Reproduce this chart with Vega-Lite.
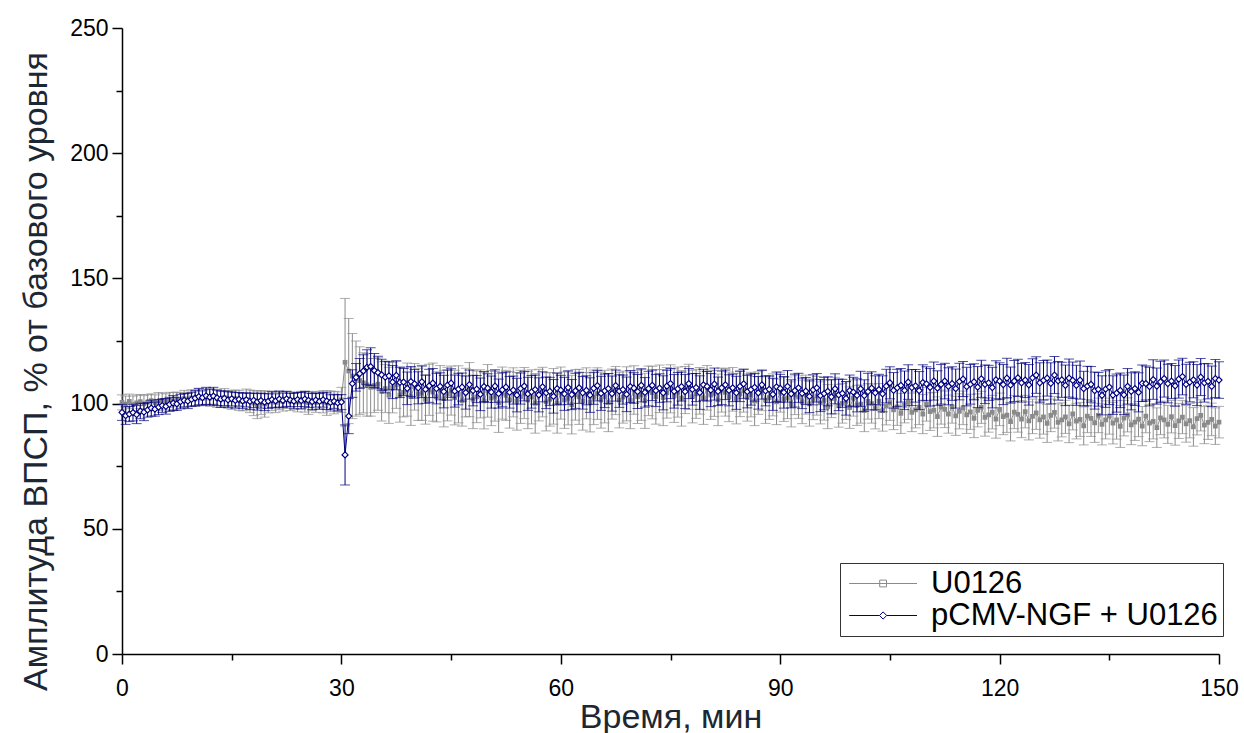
{
"$schema":"https://vega.github.io/schema/vega-lite/v6.json",
"width":1097,"height":626,
"autosize":{"type":"none"},
"padding":{"left":122,"top":28,"right":25,"bottom":79},
"background":"white",
"config":{"view":{"stroke":null},"font":"Liberation Sans"},
"datasets":{
"u":[
{"t":0,"y":100.5,"e":3.0},{"t":0.5,"y":99.8,"e":3.2},{"t":1,"y":100.9,"e":2.9},{"t":1.5,"y":99.6,"e":3.4},{"t":2,"y":100.3,"e":3.1},{"t":2.5,"y":100.8,"e":2.8},{"t":3,"y":99.9,"e":3.3},{"t":3.5,"y":100.6,"e":3.0},{"t":4,"y":101.2,"e":2.7},{"t":4.5,"y":100.4,"e":3.1},
{"t":5,"y":100.9,"e":3.5},{"t":5.5,"y":101.3,"e":2.9},{"t":6,"y":100.7,"e":3.2},{"t":6.5,"y":101.5,"e":3.0},{"t":7,"y":101.0,"e":3.4},{"t":7.5,"y":101.8,"e":2.8},{"t":8,"y":101.3,"e":3.1},{"t":8.5,"y":102.0,"e":3.3},{"t":9,"y":101.6,"e":2.9},{"t":9.5,"y":102.3,"e":3.2},
{"t":10,"y":101.9,"e":3.0},{"t":10.5,"y":102.5,"e":3.4},{"t":11,"y":102.1,"e":2.8},{"t":11.5,"y":102.7,"e":3.1},{"t":12,"y":102.2,"e":3.3},{"t":12.5,"y":102.8,"e":3.0},{"t":13,"y":102.0,"e":3.5},{"t":13.5,"y":101.7,"e":3.2},{"t":14,"y":102.4,"e":3.6},{"t":14.5,"y":101.9,"e":3.3},
{"t":15,"y":101.5,"e":3.8},{"t":15.5,"y":102.0,"e":3.4},{"t":16,"y":101.3,"e":4.0},{"t":16.5,"y":100.8,"e":3.7},{"t":17,"y":101.6,"e":4.2},{"t":17.5,"y":100.9,"e":4.5},{"t":18,"y":100.2,"e":5.0},{"t":18.5,"y":99.5,"e":5.5},{"t":19,"y":100.4,"e":4.8},{"t":19.5,"y":99.8,"e":5.2},
{"t":20,"y":100.6,"e":4.3},{"t":20.5,"y":101.1,"e":3.9},{"t":21,"y":100.5,"e":4.1},{"t":21.5,"y":101.3,"e":3.6},{"t":22,"y":100.8,"e":3.8},{"t":22.5,"y":101.5,"e":3.4},{"t":23,"y":100.9,"e":3.7},{"t":23.5,"y":101.2,"e":3.3},{"t":24,"y":100.6,"e":3.9},{"t":24.5,"y":101.4,"e":3.5},
{"t":25,"y":100.8,"e":4.2},{"t":25.5,"y":100.3,"e":4.6},{"t":26,"y":101.0,"e":3.8},{"t":26.5,"y":100.5,"e":4.0},{"t":27,"y":101.3,"e":3.6},{"t":27.5,"y":100.7,"e":4.4},{"t":28,"y":100.2,"e":4.9},{"t":28.5,"y":100.9,"e":4.1},{"t":29,"y":100.4,"e":4.5},{"t":29.5,"y":100.8,"e":3.9},
{"t":30,"y":101.5,"e":5.0},{"t":30.5,"y":116.5,"e":25.5},{"t":31,"y":113.0,"e":21.0},{"t":31.5,"y":111.0,"e":17.0},{"t":32,"y":110.0,"e":15.0},{"t":32.5,"y":109.2,"e":13.5},{"t":33,"y":108.3,"e":12.0},{"t":33.5,"y":107.5,"e":12.5},{"t":34,"y":106.5,"e":11.5},{"t":34.5,"y":107.2,"e":10.8},
{"t":35,"y":107.8,"e":10.5},{"t":35.5,"y":104.9,"e":11.8},{"t":36,"y":106.0,"e":9.6},{"t":36.5,"y":103.3,"e":11.2},{"t":37,"y":106.4,"e":10.1},{"t":37.5,"y":107.5,"e":9.4},{"t":38,"y":103.5,"e":10.9},{"t":38.5,"y":104.5,"e":9.8},{"t":39,"y":105.6,"e":10.6},{"t":39.5,"y":102.8,"e":11.5},
{"t":40,"y":106.7,"e":9.3},{"t":40.5,"y":103.7,"e":10.4},{"t":41,"y":104.3,"e":11.0},{"t":41.5,"y":101.7,"e":9.9},{"t":42,"y":105.5,"e":10.2},{"t":42.5,"y":104.6,"e":11.6},{"t":43,"y":102.7,"e":10.0},{"t":43.5,"y":105.7,"e":9.5},{"t":44,"y":102.0,"e":11.3},{"t":44.5,"y":103.8,"e":10.7},
{"t":45,"y":105.2,"e":9.8},{"t":45.5,"y":102.4,"e":10.9},{"t":46,"y":103.7,"e":11.4},{"t":46.5,"y":101.1,"e":10.1},{"t":47,"y":104.4,"e":9.7},{"t":47.5,"y":105.6,"e":10.8},{"t":48,"y":101.7,"e":11.7},{"t":48.5,"y":102.7,"e":10.3},{"t":49,"y":103.9,"e":9.6},{"t":49.5,"y":101.1,"e":11.2},
{"t":50,"y":105.1,"e":10.5},{"t":50.5,"y":102.2,"e":11.0},{"t":51,"y":102.9,"e":9.9},{"t":51.5,"y":100.3,"e":11.8},{"t":52,"y":104.2,"e":10.4},{"t":52.5,"y":103.3,"e":10.0},{"t":53,"y":101.5,"e":11.3},{"t":53.5,"y":104.5,"e":9.8},{"t":54,"y":100.9,"e":11.5},{"t":54.5,"y":102.7,"e":10.6},
{"t":55,"y":104.2,"e":10.2},{"t":55.5,"y":101.4,"e":11.4},{"t":56,"y":102.7,"e":10.8},{"t":56.5,"y":100.1,"e":11.9},{"t":57,"y":103.4,"e":10.3},{"t":57.5,"y":104.6,"e":9.9},{"t":58,"y":100.7,"e":11.6},{"t":58.5,"y":101.7,"e":10.7},{"t":59,"y":102.9,"e":11.1},{"t":59.5,"y":100.2,"e":12.0},
{"t":60,"y":104.2,"e":10.4},{"t":60.5,"y":101.4,"e":11.3},{"t":61,"y":102.1,"e":10.6},{"t":61.5,"y":99.6,"e":11.7},{"t":62,"y":103.5,"e":10.1},{"t":62.5,"y":102.7,"e":11.0},{"t":63,"y":100.9,"e":11.5},{"t":63.5,"y":104.1,"e":10.2},{"t":64,"y":100.5,"e":11.8},{"t":64.5,"y":102.5,"e":10.9},
{"t":65,"y":104.0,"e":10.3},{"t":65.5,"y":101.4,"e":11.2},{"t":66,"y":102.8,"e":10.5},{"t":66.5,"y":100.4,"e":11.6},{"t":67,"y":103.8,"e":10.0},{"t":67.5,"y":105.2,"e":9.6},{"t":68,"y":101.4,"e":11.1},{"t":68.5,"y":102.6,"e":10.4},{"t":69,"y":103.9,"e":10.8},{"t":69.5,"y":101.3,"e":11.3},
{"t":70,"y":105.4,"e":9.7},{"t":70.5,"y":102.7,"e":10.6},{"t":71,"y":103.5,"e":10.2},{"t":71.5,"y":101.1,"e":11.0},{"t":72,"y":105.1,"e":9.9},{"t":72.5,"y":104.4,"e":10.5},{"t":73,"y":102.7,"e":10.9},{"t":73.5,"y":105.9,"e":9.5},{"t":74,"y":102.4,"e":11.2},{"t":74.5,"y":104.3,"e":10.1},
{"t":75,"y":105.9,"e":9.6},{"t":75.5,"y":103.2,"e":10.7},{"t":76,"y":104.6,"e":10.0},{"t":76.5,"y":102.1,"e":11.1},{"t":77,"y":105.4,"e":9.4},{"t":77.5,"y":106.7,"e":9.0},{"t":78,"y":102.8,"e":10.5},{"t":78.5,"y":103.9,"e":9.8},{"t":79,"y":105.1,"e":9.3},{"t":79.5,"y":102.3,"e":10.6},
{"t":80,"y":106.3,"e":8.9},{"t":80.5,"y":103.4,"e":9.7},{"t":81,"y":104.1,"e":9.2},{"t":81.5,"y":101.5,"e":10.3},{"t":82,"y":105.4,"e":8.8},{"t":82.5,"y":104.5,"e":9.5},{"t":83,"y":102.7,"e":9.9},{"t":83.5,"y":105.7,"e":8.7},{"t":84,"y":102.0,"e":10.1},{"t":84.5,"y":103.8,"e":9.0},
{"t":85,"y":105.2,"e":8.6},{"t":85.5,"y":102.4,"e":9.4},{"t":86,"y":103.6,"e":8.9},{"t":86.5,"y":101.0,"e":9.8},{"t":87,"y":104.2,"e":8.5},{"t":87.5,"y":105.4,"e":8.2},{"t":88,"y":101.4,"e":9.3},{"t":88.5,"y":102.4,"e":8.7},{"t":89,"y":103.5,"e":8.4},{"t":89.5,"y":100.7,"e":9.1},
{"t":90,"y":104.6,"e":8.0},{"t":90.5,"y":101.7,"e":8.8},{"t":91,"y":102.3,"e":8.3},{"t":91.5,"y":99.7,"e":9.0},{"t":92,"y":103.5,"e":7.9},{"t":92.5,"y":102.6,"e":8.5},{"t":93,"y":100.7,"e":8.7},{"t":93.5,"y":103.6,"e":7.8},{"t":94,"y":99.9,"e":8.9},{"t":94.5,"y":101.7,"e":8.1},
{"t":95,"y":103.1,"e":7.7},{"t":95.5,"y":100.3,"e":8.4},{"t":96,"y":101.4,"e":8.0},{"t":96.5,"y":98.8,"e":8.8},{"t":97,"y":102.0,"e":7.6},{"t":97.5,"y":103.2,"e":7.3},{"t":98,"y":99.1,"e":8.5},{"t":98.5,"y":100.1,"e":7.9},{"t":99,"y":101.2,"e":7.5},{"t":99.5,"y":98.4,"e":8.3},
{"t":100,"y":102.2,"e":7.2},{"t":100.5,"y":99.3,"e":8.0},{"t":101,"y":99.8,"e":7.6},{"t":101.5,"y":97.2,"e":8.4},{"t":102,"y":100.9,"e":7.1},{"t":102.5,"y":100.0,"e":7.8},{"t":103,"y":98.0,"e":8.1},{"t":103.5,"y":101.0,"e":7.0},{"t":104,"y":97.2,"e":8.2},{"t":104.5,"y":99.0,"e":7.5},
{"t":105,"y":100.4,"e":7.1},{"t":105.5,"y":97.5,"e":7.9},{"t":106,"y":98.7,"e":7.4},{"t":106.5,"y":96.1,"e":8.0},{"t":107,"y":99.3,"e":7.0},{"t":107.5,"y":100.5,"e":6.8},{"t":108,"y":96.5,"e":7.7},{"t":108.5,"y":97.5,"e":7.2},{"t":109,"y":98.6,"e":7.0},{"t":109.5,"y":95.8,"e":7.8},
{"t":110,"y":99.7,"e":6.7},{"t":110.5,"y":96.8,"e":7.5},{"t":111,"y":97.4,"e":7.1},{"t":111.5,"y":94.8,"e":7.9},{"t":112,"y":98.6,"e":6.8},{"t":112.5,"y":97.7,"e":7.3},{"t":113,"y":95.8,"e":7.6},{"t":113.5,"y":98.8,"e":6.6},{"t":114,"y":95.1,"e":7.8},{"t":114.5,"y":96.9,"e":7.0},
{"t":115,"y":98.3,"e":6.7},{"t":115.5,"y":95.5,"e":7.4},{"t":116,"y":96.7,"e":7.0},{"t":116.5,"y":94.1,"e":7.7},{"t":117,"y":97.3,"e":6.6},{"t":117.5,"y":98.5,"e":6.4},{"t":118,"y":94.5,"e":7.5},{"t":118.5,"y":95.5,"e":6.9},{"t":119,"y":96.6,"e":6.7},{"t":119.5,"y":93.8,"e":7.6},
{"t":120,"y":97.7,"e":6.5},{"t":120.5,"y":94.8,"e":7.2},{"t":121,"y":95.4,"e":6.9},{"t":121.5,"y":92.8,"e":7.7},{"t":122,"y":96.6,"e":6.6},{"t":122.5,"y":95.7,"e":7.1},{"t":123,"y":93.8,"e":7.4},{"t":123.5,"y":96.8,"e":6.5},{"t":124,"y":93.1,"e":7.6},{"t":124.5,"y":94.9,"e":6.9},
{"t":125,"y":96.3,"e":6.6},{"t":125.5,"y":93.5,"e":7.3},{"t":126,"y":94.7,"e":6.9},{"t":126.5,"y":92.1,"e":7.6},{"t":127,"y":95.3,"e":6.5},{"t":127.5,"y":96.5,"e":6.3},{"t":128,"y":92.5,"e":7.4},{"t":128.5,"y":93.5,"e":6.8},{"t":129,"y":94.7,"e":6.6},{"t":129.5,"y":91.9,"e":7.5},
{"t":130,"y":95.9,"e":6.4},{"t":130.5,"y":93.0,"e":7.1},{"t":131,"y":93.7,"e":6.8},{"t":131.5,"y":91.1,"e":7.6},{"t":132,"y":95.0,"e":6.6},{"t":132.5,"y":94.1,"e":7.2},{"t":133,"y":92.3,"e":7.8},{"t":133.5,"y":95.3,"e":6.9},{"t":134,"y":91.7,"e":8.2},{"t":134.5,"y":93.5,"e":7.6},
{"t":135,"y":95.0,"e":7.2},{"t":135.5,"y":92.2,"e":8.3},{"t":136,"y":93.5,"e":7.7},{"t":136.5,"y":90.9,"e":8.4},{"t":137,"y":94.2,"e":7.1},{"t":137.5,"y":95.5,"e":6.8},{"t":138,"y":91.5,"e":7.9},{"t":138.5,"y":92.6,"e":7.3},{"t":139,"y":93.8,"e":7.0},{"t":139.5,"y":91.0,"e":7.8},
{"t":140,"y":95.0,"e":6.6},{"t":140.5,"y":92.2,"e":7.4},{"t":141,"y":92.9,"e":7.0},{"t":141.5,"y":90.4,"e":7.9},{"t":142,"y":94.3,"e":6.7},{"t":142.5,"y":93.5,"e":7.2},{"t":143,"y":91.7,"e":7.6},{"t":143.5,"y":94.8,"e":6.5},{"t":144,"y":91.2,"e":7.8},{"t":144.5,"y":93.1,"e":7.0},
{"t":145,"y":94.6,"e":6.6},{"t":145.5,"y":91.9,"e":7.3},{"t":146,"y":93.2,"e":6.9},{"t":146.5,"y":90.7,"e":7.7},{"t":147,"y":94.0,"e":6.5},{"t":147.5,"y":95.3,"e":6.2},{"t":148,"y":91.4,"e":7.4},{"t":148.5,"y":92.5,"e":6.8},{"t":149,"y":93.7,"e":6.5},{"t":149.5,"y":91.0,"e":7.3},
{"t":150,"y":92.6,"e":6.3}
],
"n":[
{"t":0,"y":96.5,"e":3.2},{"t":0.5,"y":95.2,"e":3.5},{"t":1,"y":95.8,"e":3.0},{"t":1.5,"y":96.4,"e":3.3},{"t":2,"y":95.6,"e":3.6},{"t":2.5,"y":97.0,"e":3.1},{"t":3,"y":96.6,"e":3.4},{"t":3.5,"y":97.5,"e":2.9},{"t":4,"y":98.2,"e":3.2},{"t":4.5,"y":97.8,"e":2.8},
{"t":5,"y":98.6,"e":3.0},{"t":5.5,"y":99.2,"e":2.7},{"t":6,"y":98.9,"e":3.1},{"t":6.5,"y":99.7,"e":2.8},{"t":7,"y":100.2,"e":3.0},{"t":7.5,"y":99.9,"e":2.6},{"t":8,"y":100.8,"e":2.9},{"t":8.5,"y":101.3,"e":2.7},{"t":9,"y":101.0,"e":3.0},{"t":9.5,"y":101.7,"e":2.8},
{"t":10,"y":102.2,"e":3.1},{"t":10.5,"y":102.8,"e":3.3},{"t":11,"y":102.4,"e":3.0},{"t":11.5,"y":103.1,"e":3.4},{"t":12,"y":102.6,"e":3.2},{"t":12.5,"y":103.0,"e":3.5},{"t":13,"y":102.3,"e":3.1},{"t":13.5,"y":101.8,"e":3.3},{"t":14,"y":102.1,"e":2.9},{"t":14.5,"y":101.5,"e":3.2},
{"t":15,"y":101.9,"e":2.8},{"t":15.5,"y":101.3,"e":3.1},{"t":16,"y":101.7,"e":2.7},{"t":16.5,"y":101.1,"e":3.0},{"t":17,"y":101.5,"e":2.8},{"t":17.5,"y":100.9,"e":3.2},{"t":18,"y":101.3,"e":2.9},{"t":18.5,"y":100.7,"e":3.3},{"t":19,"y":101.2,"e":3.0},{"t":19.5,"y":100.6,"e":3.4},
{"t":20,"y":101.0,"e":2.9},{"t":20.5,"y":101.6,"e":3.1},{"t":21,"y":101.1,"e":2.8},{"t":21.5,"y":101.8,"e":3.2},{"t":22,"y":101.3,"e":2.9},{"t":22.5,"y":101.9,"e":3.0},{"t":23,"y":101.4,"e":2.7},{"t":23.5,"y":101.0,"e":3.1},{"t":24,"y":101.6,"e":2.8},{"t":24.5,"y":101.2,"e":3.3},
{"t":25,"y":101.8,"e":3.0},{"t":25.5,"y":101.3,"e":2.9},{"t":26,"y":100.8,"e":3.2},{"t":26.5,"y":101.4,"e":2.8},{"t":27,"y":100.9,"e":3.1},{"t":27.5,"y":101.5,"e":2.9},{"t":28,"y":101.0,"e":3.3},{"t":28.5,"y":100.5,"e":3.0},{"t":29,"y":100.9,"e":2.8},{"t":29.5,"y":100.3,"e":3.2},
{"t":30,"y":100.6,"e":3.0},{"t":30.5,"y":79.5,"e":12.0},{"t":31,"y":95.0,"e":7.0},{"t":31.5,"y":108.0,"e":5.5},{"t":32,"y":110.5,"e":5.5},{"t":32.5,"y":112.0,"e":6.0},{"t":33,"y":113.0,"e":6.5},{"t":33.5,"y":114.5,"e":7.0},{"t":34,"y":114.8,"e":7.5},{"t":34.5,"y":113.2,"e":6.8},
{"t":35,"y":112.4,"e":6.5},{"t":35.5,"y":111.5,"e":6.2},{"t":36,"y":110.6,"e":6.3},{"t":36.5,"y":111.1,"e":5.6},{"t":37,"y":108.6,"e":6.6},{"t":37.5,"y":111.3,"e":5.8},{"t":38,"y":108.5,"e":6.1},{"t":38.5,"y":108.6,"e":5.4},{"t":39,"y":106.1,"e":6.5},{"t":39.5,"y":108.8,"e":6.0},
{"t":40,"y":107.9,"e":5.7},{"t":40.5,"y":106.3,"e":6.4},{"t":41,"y":108.7,"e":6.3},{"t":41.5,"y":105.7,"e":5.6},{"t":42,"y":107.1,"e":6.6},{"t":42.5,"y":108.2,"e":5.8},{"t":43,"y":106.0,"e":6.1},{"t":43.5,"y":106.9,"e":5.4},{"t":44,"y":104.8,"e":6.5},{"t":44.5,"y":107.4,"e":6.0},
{"t":45,"y":108.2,"e":5.7},{"t":45.5,"y":105.0,"e":6.4},{"t":46,"y":105.8,"e":6.3},{"t":46.5,"y":106.6,"e":5.6},{"t":47,"y":104.4,"e":6.6},{"t":47.5,"y":107.6,"e":5.8},{"t":48,"y":105.2,"e":6.1},{"t":48.5,"y":105.8,"e":5.4},{"t":49,"y":103.7,"e":6.5},{"t":49.5,"y":106.8,"e":6.0},
{"t":50,"y":106.2,"e":5.7},{"t":50.5,"y":104.6,"e":6.4},{"t":51,"y":107.0,"e":6.5},{"t":51.5,"y":104.0,"e":5.8},{"t":52,"y":105.5,"e":6.8},{"t":52.5,"y":106.6,"e":6.0},{"t":53,"y":104.5,"e":6.3},{"t":53.5,"y":105.4,"e":5.6},{"t":54,"y":103.4,"e":6.7},{"t":54.5,"y":106.0,"e":6.2},
{"t":55,"y":107.0,"e":5.9},{"t":55.5,"y":103.9,"e":6.6},{"t":56,"y":104.7,"e":6.5},{"t":56.5,"y":105.6,"e":5.8},{"t":57,"y":103.5,"e":6.8},{"t":57.5,"y":106.7,"e":6.0},{"t":58,"y":104.3,"e":6.3},{"t":58.5,"y":104.9,"e":5.6},{"t":59,"y":102.9,"e":6.7},{"t":59.5,"y":106.0,"e":6.2},
{"t":60,"y":105.4,"e":5.9},{"t":60.5,"y":103.9,"e":6.6},{"t":61,"y":106.4,"e":6.7},{"t":61.5,"y":103.6,"e":6.0},{"t":62,"y":105.1,"e":7.0},{"t":62.5,"y":106.3,"e":6.2},{"t":63,"y":104.3,"e":6.5},{"t":63.5,"y":105.3,"e":5.8},{"t":64,"y":103.4,"e":6.9},{"t":64.5,"y":106.1,"e":6.4},
{"t":65,"y":107.2,"e":6.1},{"t":65.5,"y":104.1,"e":6.8},{"t":66,"y":105.1,"e":6.7},{"t":66.5,"y":106.0,"e":6.0},{"t":67,"y":104.0,"e":7.0},{"t":67.5,"y":107.2,"e":6.2},{"t":68,"y":105.0,"e":6.5},{"t":68.5,"y":105.6,"e":5.8},{"t":69,"y":103.7,"e":6.9},{"t":69.5,"y":106.8,"e":6.4},
{"t":70,"y":106.2,"e":6.1},{"t":70.5,"y":104.8,"e":6.8},{"t":71,"y":107.3,"e":6.6},{"t":71.5,"y":104.5,"e":5.9},{"t":72,"y":106.0,"e":6.9},{"t":72.5,"y":107.3,"e":6.1},{"t":73,"y":105.2,"e":6.4},{"t":73.5,"y":106.2,"e":5.7},{"t":74,"y":104.3,"e":6.8},{"t":74.5,"y":107.0,"e":6.3},
{"t":75,"y":108.0,"e":6.0},{"t":75.5,"y":104.9,"e":6.7},{"t":76,"y":105.9,"e":6.5},{"t":76.5,"y":106.8,"e":5.8},{"t":77,"y":104.8,"e":6.8},{"t":77.5,"y":108.0,"e":6.0},{"t":78,"y":105.7,"e":6.3},{"t":78.5,"y":106.4,"e":5.6},{"t":79,"y":104.4,"e":6.7},{"t":79.5,"y":107.5,"e":6.2},
{"t":80,"y":106.9,"e":5.9},{"t":80.5,"y":105.4,"e":6.6},{"t":81,"y":107.8,"e":6.4},{"t":81.5,"y":104.9,"e":5.7},{"t":82,"y":106.3,"e":6.7},{"t":82.5,"y":107.5,"e":5.9},{"t":83,"y":105.3,"e":6.2},{"t":83.5,"y":106.3,"e":5.5},{"t":84,"y":104.3,"e":6.6},{"t":84.5,"y":106.9,"e":6.1},
{"t":85,"y":107.9,"e":5.8},{"t":85.5,"y":104.8,"e":6.5},{"t":86,"y":105.6,"e":6.2},{"t":86.5,"y":106.5,"e":5.5},{"t":87,"y":104.3,"e":6.5},{"t":87.5,"y":107.5,"e":5.7},{"t":88,"y":105.1,"e":6.0},{"t":88.5,"y":105.7,"e":5.3},{"t":89,"y":103.7,"e":6.4},{"t":89.5,"y":106.7,"e":5.9},
{"t":90,"y":106.1,"e":5.6},{"t":90.5,"y":104.5,"e":6.3},{"t":91,"y":106.9,"e":6.3},{"t":91.5,"y":103.9,"e":5.6},{"t":92,"y":105.2,"e":6.6},{"t":92.5,"y":106.3,"e":5.8},{"t":93,"y":104.1,"e":6.1},{"t":93.5,"y":105.0,"e":5.4},{"t":94,"y":102.9,"e":6.5},{"t":94.5,"y":105.5,"e":6.0},
{"t":95,"y":106.3,"e":5.7},{"t":95.5,"y":103.2,"e":6.4},{"t":96,"y":104.0,"e":6.5},{"t":96.5,"y":104.9,"e":5.8},{"t":97,"y":102.7,"e":6.8},{"t":97.5,"y":105.9,"e":6.0},{"t":98,"y":103.5,"e":6.3},{"t":98.5,"y":104.1,"e":5.6},{"t":99,"y":102.1,"e":6.7},{"t":99.5,"y":105.2,"e":6.2},
{"t":100,"y":104.6,"e":5.9},{"t":100.5,"y":103.3,"e":6.6},{"t":101,"y":105.9,"e":7.0},{"t":101.5,"y":103.2,"e":6.3},{"t":102,"y":104.8,"e":7.3},{"t":102.5,"y":106.2,"e":6.5},{"t":103,"y":104.3,"e":6.8},{"t":103.5,"y":105.6,"e":6.1},{"t":104,"y":103.9,"e":7.2},{"t":104.5,"y":107.0,"e":6.7},
{"t":105,"y":108.3,"e":6.4},{"t":105.5,"y":105.3,"e":7.1},{"t":106,"y":106.3,"e":7.4},{"t":106.5,"y":107.3,"e":6.7},{"t":107,"y":105.3,"e":7.7},{"t":107.5,"y":108.6,"e":6.9},{"t":108,"y":106.4,"e":7.2},{"t":108.5,"y":107.1,"e":6.5},{"t":109,"y":105.2,"e":7.6},{"t":109.5,"y":108.4,"e":7.1},
{"t":110,"y":107.9,"e":6.8},{"t":110.5,"y":106.5,"e":7.5},{"t":111,"y":109.0,"e":7.6},{"t":111.5,"y":106.2,"e":6.9},{"t":112,"y":107.7,"e":7.9},{"t":112.5,"y":109.0,"e":7.1},{"t":113,"y":106.9,"e":7.4},{"t":113.5,"y":108.0,"e":6.7},{"t":114,"y":106.0,"e":7.8},{"t":114.5,"y":108.8,"e":7.3},
{"t":115,"y":109.8,"e":7.0},{"t":115.5,"y":106.8,"e":7.7},{"t":116,"y":107.7,"e":7.9},{"t":116.5,"y":108.7,"e":7.2},{"t":117,"y":106.6,"e":8.2},{"t":117.5,"y":109.9,"e":7.4},{"t":118,"y":107.7,"e":7.7},{"t":118.5,"y":108.3,"e":7.0},{"t":119,"y":106.4,"e":8.1},{"t":119.5,"y":109.5,"e":7.6},
{"t":120,"y":109.0,"e":7.3},{"t":120.5,"y":107.6,"e":8.0},{"t":121,"y":110.2,"e":7.9},{"t":121.5,"y":107.4,"e":7.2},{"t":122,"y":109.0,"e":8.2},{"t":122.5,"y":110.3,"e":7.4},{"t":123,"y":108.3,"e":7.7},{"t":123.5,"y":109.4,"e":7.0},{"t":124,"y":107.5,"e":8.1},{"t":124.5,"y":110.3,"e":7.6},
{"t":125,"y":111.4,"e":7.3},{"t":125.5,"y":108.3,"e":8.0},{"t":126,"y":109.3,"e":7.9},{"t":126.5,"y":110.2,"e":7.2},{"t":127,"y":108.1,"e":8.2},{"t":127.5,"y":111.4,"e":7.4},{"t":128,"y":109.1,"e":7.7},{"t":128.5,"y":109.5,"e":7.0},{"t":129,"y":107.3,"e":8.1},{"t":129.5,"y":110.2,"e":7.6},
{"t":130,"y":109.3,"e":7.3},{"t":130.5,"y":107.3,"e":8.0},{"t":131,"y":109.4,"e":7.6},{"t":131.5,"y":106.0,"e":6.9},{"t":132,"y":107.0,"e":7.9},{"t":132.5,"y":107.7,"e":7.1},{"t":133,"y":105.2,"e":7.4},{"t":133.5,"y":105.7,"e":6.7},{"t":134,"y":103.3,"e":7.8},{"t":134.5,"y":105.8,"e":7.3},
{"t":135,"y":106.6,"e":7.0},{"t":135.5,"y":103.4,"e":7.7},{"t":136,"y":104.2,"e":7.6},{"t":136.5,"y":105.3,"e":6.9},{"t":137,"y":103.5,"e":7.9},{"t":137.5,"y":106.9,"e":7.1},{"t":138,"y":104.9,"e":7.4},{"t":138.5,"y":106.0,"e":6.7},{"t":139,"y":104.5,"e":7.8},{"t":139.5,"y":108.1,"e":7.3},
{"t":140,"y":108.0,"e":7.0},{"t":140.5,"y":106.8,"e":7.7},{"t":141,"y":109.6,"e":7.9},{"t":141.5,"y":107.0,"e":7.2},{"t":142,"y":108.7,"e":8.2},{"t":142.5,"y":110.0,"e":7.4},{"t":143,"y":108.0,"e":7.7},{"t":143.5,"y":109.0,"e":7.0},{"t":144,"y":107.1,"e":8.1},{"t":144.5,"y":109.8,"e":7.6},
{"t":145,"y":110.8,"e":7.3},{"t":145.5,"y":107.7,"e":8.0},{"t":146,"y":108.6,"e":7.9},{"t":146.5,"y":109.5,"e":7.2},{"t":147,"y":107.4,"e":8.2},{"t":147.5,"y":110.6,"e":7.4},{"t":148,"y":108.3,"e":7.7},{"t":148.5,"y":108.9,"e":7.0},{"t":149,"y":106.9,"e":8.1},{"t":149.5,"y":110.0,"e":7.6},
{"t":150,"y":109.4,"e":7.3}
]
},
"encoding":{
"x":{"field":"t","type":"quantitative","scale":{"domain":[0,150],"nice":false,"zero":false},
"axis":{"title":"Время, мин","values":[0,15,30,45,60,75,90,105,120,135,150],
"labelExpr":"datum.value % 30 === 0 ? datum.label : ''","labelFlush":false,
"tickSize":{"condition":{"test":"datum.value % 30 === 0","value":10},"value":6},
"grid":false,"domainColor":"#000","domainWidth":1.5,"tickColor":"#000","tickWidth":1.5,
"labelFontSize":23,"labelColor":"#000","labelPadding":13,"labelFont":"Liberation Sans",
"titleFontSize":34,"titleFontWeight":"normal","titleColor":"#1c2733","titlePadding":0,"titleFont":"Liberation Sans"}},
"y":{"field":"y","type":"quantitative","scale":{"domain":[0,250],"nice":false},
"axis":{"title":"Амплитуда ВПСП, % от базового уровня","values":[0,25,50,75,100,125,150,175,200,225,250],
"labelExpr":"datum.value % 50 === 0 ? datum.label : ''","labelFlush":false,
"tickSize":{"condition":{"test":"datum.value % 50 === 0","value":10},"value":6},
"grid":false,"domainColor":"#000","domainWidth":1.5,"tickColor":"#000","tickWidth":1.5,
"labelFontSize":23,"labelColor":"#000","labelPadding":4,"labelFont":"Liberation Sans",
"titleFontSize":34,"titleFontWeight":"normal","titleColor":"#1c2733","titlePadding":16,"titleY":343,"titleFont":"Liberation Sans"}}
},
"layer":[
{"data":{"name":"u"},"mark":{"type":"errorbar","color":"#8a8a8a","ticks":{"size":10,"thickness":1}},"encoding":{"yError":{"field":"e"}}},
{"data":{"name":"u"},"mark":{"type":"line","color":"#8a8a8a","strokeWidth":1}},
{"data":{"name":"u"},"mark":{"type":"point","shape":"square","filled":true,"color":"#8a8a8a","size":22,"opacity":1}},
{"data":{"name":"n"},"mark":{"type":"errorbar","color":"#00007f","ticks":{"size":10,"thickness":1}},"encoding":{"yError":{"field":"e"}}},
{"data":{"name":"n"},"mark":{"type":"line","color":"#00007f","strokeWidth":1}},
{"data":{"name":"n"},"mark":{"type":"point","shape":"diamond","filled":false,"fill":"white","fillOpacity":1,"stroke":"#00007f","strokeWidth":1.2,"size":36,"opacity":1}},
{"data":{"values":[{"g":"U0126","t":0,"y":100.5},{"g":"pCMV-NGF + U0126","t":0,"y":96.5}]},
 "mark":{"type":"point","filled":false,"opacity":0},
 "encoding":{
  "color":{"field":"g","type":"nominal","scale":{"domain":["U0126","pCMV-NGF + U0126"],"range":["#8a8a8a","#00007f"]},
   "legend":{"title":null,"orient":"none","legendX":718,"legendY":535,"direction":"vertical",
    "strokeColor":"#333","fillColor":"white","padding":5,"rowPadding":0,
    "labelFontSize":31,"labelFont":"Liberation Sans","labelColor":"#000","labelOffset":55,"labelLimit":0,
    "symbolSize":511,"symbolStrokeWidth":1,"symbolOpacity":1,
    "encode":{"symbols":{"update":{"opacity":{"value":1},"strokeWidth":{"value":1},
      "fill":{"signal":"datum.value === 'U0126' ? '#8a8a8a' : '#ffffff'"},
      "stroke":{"signal":"datum.value === 'U0126' ? '#8a8a8a' : '#00007f'"}}}}}},
  "shape":{"field":"g","type":"nominal","scale":{"domain":["U0126","pCMV-NGF + U0126"],
   "range":["M-1,0H5M1.7,-0.3H2.3V0.3H1.7Z","M-1,0H1.68M2.32,0H5M2,-0.32L2.32,0L2,0.32L1.68,0Z"]},"legend":null}
 }}
]
}
